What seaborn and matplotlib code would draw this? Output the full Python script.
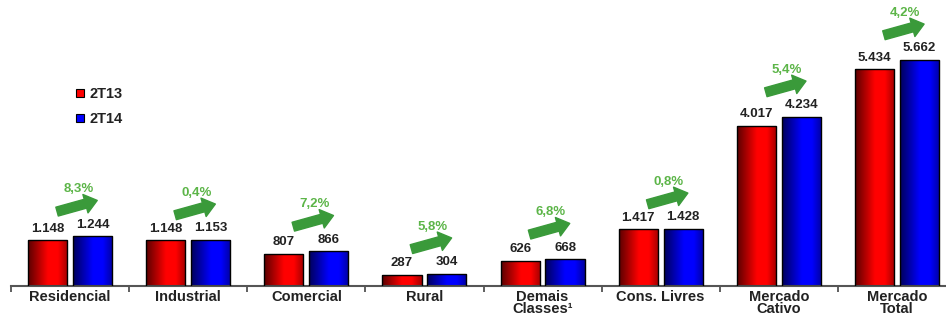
import numpy as np
import pandas as pd
import seaborn as sns
import matplotlib.pyplot as plt
from matplotlib.colors import LinearSegmentedColormap
from matplotlib.lines import Line2D

categories = ['Residencial', 'Industrial', 'Comercial', 'Rural', 'Demais\nClasses¹',
              'Cons. Livres', 'Mercado\nCativo', 'Mercado\nTotal']
values_2t13 = [1148, 1148, 807, 287, 626, 1417, 4017, 5434]
values_2t14 = [1244, 1153, 866, 304, 668, 1428, 4234, 5662]
growth_labels = ['8,3%', '0,4%', '7,2%', '5,8%', '6,8%', '0,8%', '5,4%', '4,2%']
series = ['2T13', '2T14']


def fmt_br(v):
    return f'{v:,}'.replace(',', '.')


df = pd.concat([
    pd.DataFrame({'categoria': categories, 'valor': values_2t13, 'periodo': series[0]}),
    pd.DataFrame({'categoria': categories, 'valor': values_2t14, 'periodo': series[1]}),
])

sns.set_style('white')
plt.rcParams['font.family'] = ['Liberation Sans', 'DejaVu Sans']

fig = plt.figure(figsize=(9.46, 3.18), dpi=100)
ax = fig.add_axes([11 / 946, 32 / 318, 945 / 946, 286 / 318])

red_cmap = LinearSegmentedColormap.from_list(
    'red_grad', [(0, '#5a0000'), (0.5, '#ff0000'), (0.75, '#ff0000'), (1, '#a00000')])
blue_cmap = LinearSegmentedColormap.from_list(
    'blue_grad', [(0, '#00005a'), (0.5, '#0000ff'), (0.75, '#0000ff'), (1, '#0000a0')])

sns.barplot(data=df, x='categoria', y='valor', hue='periodo',
            palette=['#ff0000', '#0000ff'], width=0.76, gap=0.13,
            edgecolor='black', linewidth=1.0, legend=False, ax=ax)

# gradient fill inside each bar
grad = np.linspace(0, 1, 256).reshape(1, -1)
for container, cmap in zip(ax.containers, [red_cmap, blue_cmap]):
    for bar in container:
        x0, y0 = bar.get_x(), bar.get_y()
        w, h = bar.get_width(), bar.get_height()
        im = ax.imshow(grad, cmap=cmap, aspect='auto', extent=[x0, x0 + w, y0, y0 + h],
                       zorder=2)
        im.set_clip_path(bar)
        bar.set_facecolor('none')
        bar.set_zorder(3)

# value labels
for container, vals in zip(ax.containers, [values_2t13, values_2t14]):
    for bar, v in zip(container, vals):
        ax.annotate(fmt_br(v), (bar.get_x() + bar.get_width() / 2, bar.get_height()),
                    xytext=(0, 4), textcoords='offset points', ha='center', va='bottom',
                    fontsize=9.5, fontweight='bold', color='#222222')

# growth arrows and percentages
arrow_green = '#3a9a3a'
text_green = '#5cb548'
for i, (a, b, g) in enumerate(zip(values_2t13, values_2t14, growth_labels)):
    top = max(a, b)
    yc = top + 760
    ax.annotate('', xy=(i + 0.23, yc + 140), xytext=(i - 0.11, yc - 140),
                arrowprops=dict(arrowstyle='simple,head_length=0.8,head_width=1.25,tail_width=0.6',
                                color=arrow_green, mutation_scale=11, shrinkA=0, shrinkB=0),
                zorder=4)
    ax.text(i + 0.07, top + 1180, g, ha='center', va='center', fontsize=9.5,
            fontweight='bold', color=text_green)

ax.set_xlim(-0.5, 7.5)
ax.set_ylim(0, 5662 * 286 / 226)
ax.set_xlabel('')
ax.set_ylabel('')
ax.set_yticks([])
ax.set_xticks(range(len(categories)))
ax.set_xticklabels(categories, fontsize=10.5, fontweight='bold', color='#222222',
                   linespacing=0.78)
ax.set_xticks(np.arange(-0.5, 8, 1), minor=True)
ax.tick_params(axis='x', which='major', length=0, pad=3)
ax.tick_params(axis='x', which='minor', length=4, width=1.2, color='#444444',
               direction='out', bottom=True)
for side in ['top', 'right', 'left']:
    ax.spines[side].set_visible(False)
ax.spines['bottom'].set_color('#555555')
ax.spines['bottom'].set_linewidth(1.5)

handles = [Line2D([0], [0], marker='s', linestyle='none', markersize=6,
                  markerfacecolor=c, markeredgecolor='black', markeredgewidth=0.8)
           for c in ['#ff0000', '#0000ff']]
leg = ax.legend(handles, series, loc='center left', bbox_to_anchor=(0.055, 0.628),
                frameon=False, handlelength=0.6, handletextpad=0.35, labelspacing=0.75,
                prop={'size': 10.5, 'weight': 'bold'})
for t in leg.get_texts():
    t.set_color('#222222')

fig.savefig('out.png', dpi=100)
plt.close(fig)
